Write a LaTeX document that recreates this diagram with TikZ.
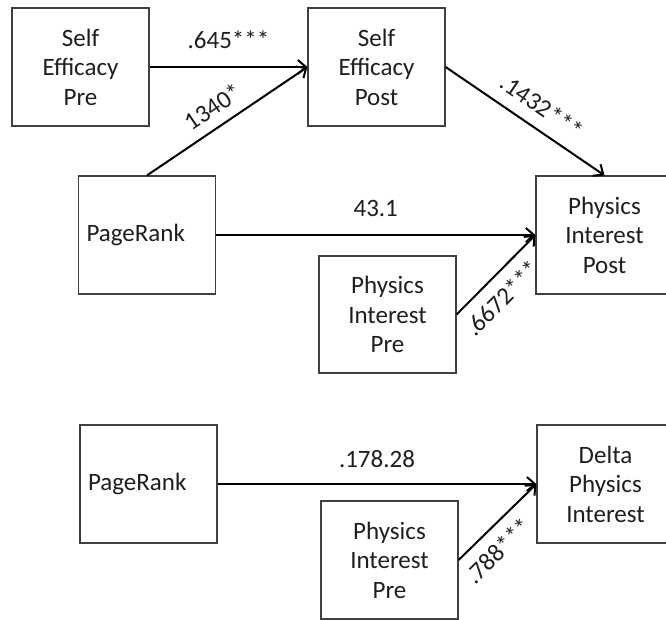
\documentclass[tikz,border=0pt]{standalone}
\usepackage{fontspec}
\setmainfont{Carlito}
\usetikzlibrary{arrows.meta}
\begin{document}
\begin{tikzpicture}[x=1pt,y=-1pt,
  box/.style={draw=black!75, line width=1.2pt, minimum width=137pt, minimum height=118pt, inner sep=0pt, align=center, font=\fontsize{25}{29.5}\selectfont, text=black!88},
  leftbox/.style={box, align=left, text width=121pt, inner xsep=8pt},
  arr/.style={line width=2pt, -{Straight Barb[length=8pt,width=14pt]}},
  lbl/.style={inner sep=0pt, font=\fontsize{25}{29.5}\selectfont, text=black!88},
]
\useasboundingbox[fill=white] (0,0) rectangle (666,620);
% top model
\node[box] (sepre) at (80.5,67) {Self\\Efficacy\\Pre};
\node[box] (sepost) at (376.5,67) {Self\\Efficacy\\Post};
\node[leftbox] (pr1) at (147,235) {PageRank};
\node[box] (pipost) at (604.5,235) {Physics\\Interest\\Post};
\node[box, minimum height=117pt] (pipre1) at (387.5,314.5) {Physics\\Interest\\Pre};
% bottom model
\node[leftbox] (pr2) at (148.5,484) {PageRank};
\node[box] (delta) at (605.5,484) {Delta\\Physics\\Interest};
\node[box] (pipre2) at (389.5,560) {Physics\\Interest\\Pre};
% connectors
\draw[arr] (sepre.east) -- node[lbl, above=17pt] {.645***} (sepost.west);
\draw[arr] (pr1.north) -- node[lbl, sloped, above=10pt, pos=0.48] {1340*} (sepost.west);
\draw[arr] (sepost.east) -- node[lbl, sloped, above=12pt, pos=0.53] {.1432***} (pipost.north);
\draw[arr] (pr1.east) -- node[lbl, above=17pt] {43.1} (pipost.west);
\draw[arr] (pipre1.east) -- node[lbl, sloped, below=11pt, pos=0.39] {.6672***} (pipost.west);
\draw[arr] (pr2.east) -- node[lbl, above=15pt] {.178.28} (delta.west);
\draw[arr] (pipre2.east) -- node[lbl, sloped, below=11pt, pos=0.32] {.788***} (delta.west);
\end{tikzpicture}
\end{document}
